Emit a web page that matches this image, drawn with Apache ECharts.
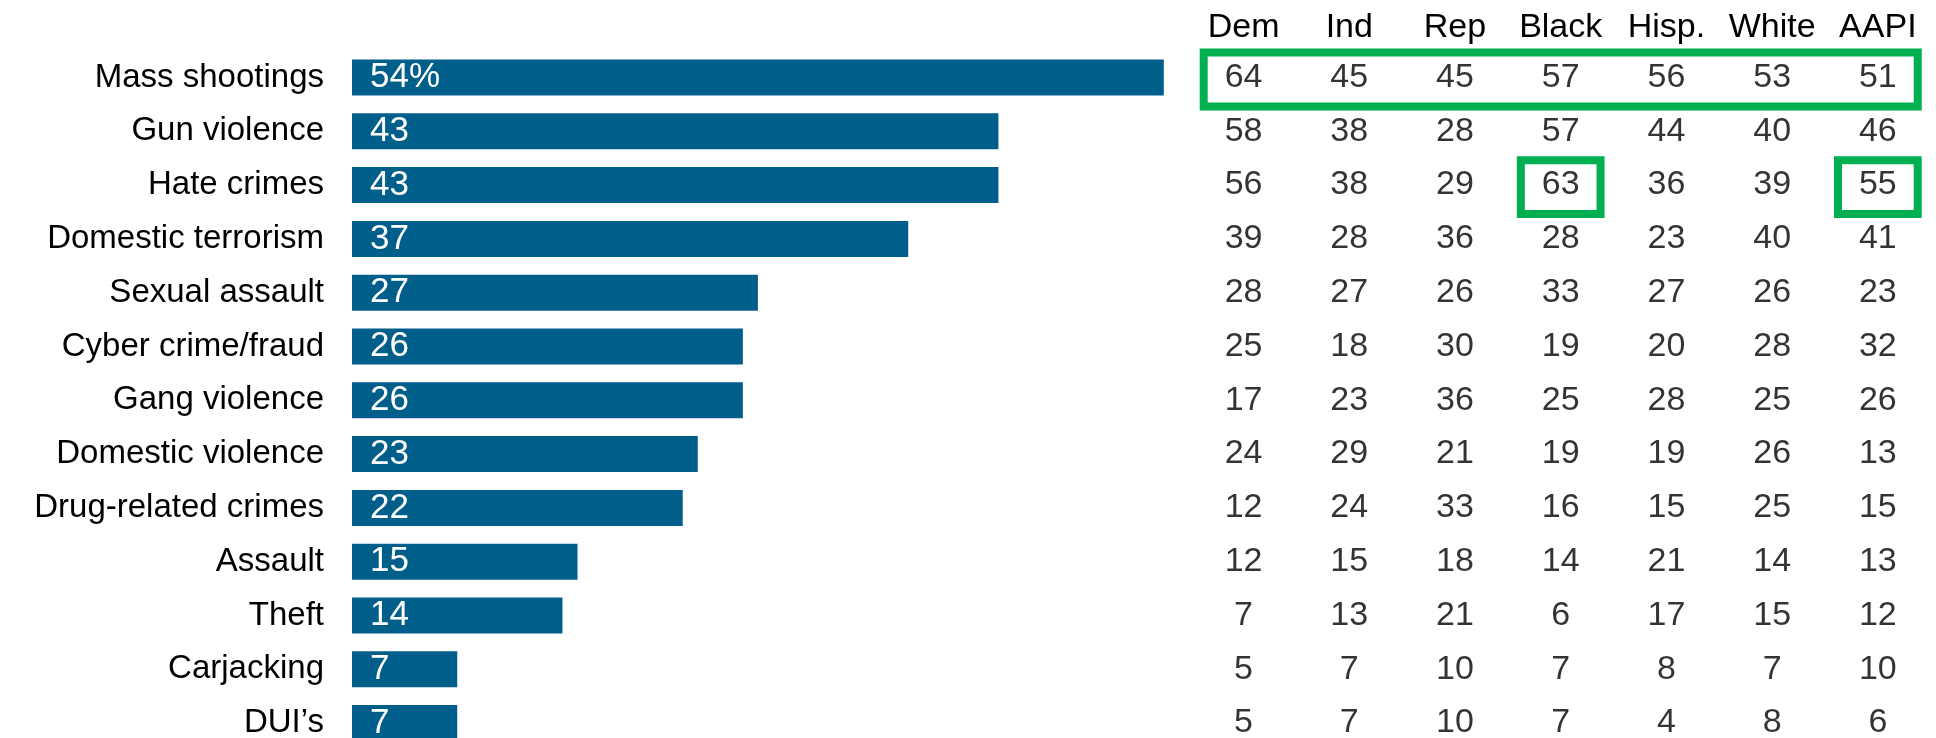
<!DOCTYPE html>
<html>
<head>
<meta charset="utf-8">
<script src="https://cdn.jsdelivr.net/npm/echarts@6/dist/echarts.min.js"></script>
<style>
  html, body { margin: 0; padding: 0; background: #fff; }
  #chart { width: 1936px; height: 738px; }
</style>
</head>
<body>
<div id="chart"></div>
<script>
const crimes = ['Mass shootings', 'Gun violence', 'Hate crimes', 'Domestic terrorism', 'Sexual assault',
  'Cyber crime/fraud', 'Gang violence', 'Domestic violence', 'Drug-related crimes', 'Assault',
  'Theft', 'Carjacking', 'DUI\u2019s'];
const total = [54, 43, 43, 37, 27, 26, 26, 23, 22, 15, 14, 7, 7];

const groups = ['Dem', 'Ind', 'Rep', 'Black', 'Hisp.', 'White', 'AAPI'];
const dem   = [64, 58, 56, 39, 28, 25, 17, 24, 12, 12, 7, 5, 5];
const ind   = [45, 38, 38, 28, 27, 18, 23, 29, 24, 15, 13, 7, 7];
const rep   = [45, 28, 29, 36, 26, 30, 36, 21, 33, 18, 21, 10, 10];
const black = [57, 57, 63, 28, 33, 19, 25, 19, 16, 14, 6, 7, 7];
const hisp  = [56, 44, 36, 23, 27, 20, 28, 19, 15, 21, 17, 8, 4];
const white = [53, 40, 39, 40, 26, 28, 25, 26, 25, 14, 15, 7, 8];
const aapi  = [51, 46, 55, 41, 23, 32, 26, 13, 15, 13, 12, 10, 6];

// highlighted cells: [first column, last column, row]
const highlights = [[0, 6, 0], [3, 3, 2], [6, 6, 2]];

const columns = [dem, ind, rep, black, hisp, white, aapi];
const cells = [];
columns.forEach(function (col, c) {
  col.forEach(function (v, r) { cells.push([c, r, v]); });
});

const font = '"Liberation Sans", Arial, sans-serif';
const chart = echarts.init(document.getElementById('chart'));

chart.setOption({
  animation: false,
  grid: [
    { left: 352, width: 902, top: 50.6, height: 699.4, outerBoundsMode: 'none' },
    { left: 1190.7, width: 740, top: 50.6, height: 699.4, outerBoundsMode: 'none' }
  ],
  xAxis: [
    { gridIndex: 0, type: 'value', min: 0, max: 60, show: false },
    {
      gridIndex: 1, type: 'category', data: groups, position: 'top',
      axisLine: { show: false }, axisTick: { show: false }, splitLine: { show: false },
      axisLabel: { color: '#000', fontSize: 34, fontFamily: font, margin: 6, interval: 0 }
    }
  ],
  yAxis: [
    {
      gridIndex: 0, type: 'category', data: crimes, inverse: true,
      axisLine: { show: false }, axisTick: { show: false },
      axisLabel: { color: '#000', fontSize: 33, fontFamily: font, margin: 28, interval: 0 }
    },
    { gridIndex: 1, type: 'category', data: crimes, inverse: true, show: false }
  ],
  series: [
    {
      type: 'bar', xAxisIndex: 0, yAxisIndex: 0, data: total, barWidth: 36,
      itemStyle: { color: '#005e8a' },
      label: {
        show: true, position: 'insideLeft', distance: 18, color: '#fff',
        fontSize: 35, fontFamily: font,
        formatter: function (p) { return p.dataIndex === 0 ? p.value + '%' : p.value; }
      }
    },
    {
      type: 'scatter', xAxisIndex: 1, yAxisIndex: 1, data: cells, symbolSize: 0,
      label: {
        show: true, position: 'inside', color: '#000', fontSize: 34, fontFamily: font,
        formatter: function (p) { return p.value[2]; }
      }
    },
    {
      type: 'custom', xAxisIndex: 1, yAxisIndex: 1, data: highlights, silent: true,
      renderItem: function (params, api) {
        const a = api.coord([api.value(0), api.value(2)]);
        const b = api.coord([api.value(1), api.value(2)]);
        const size = api.size([1, 1]);
        const inset = 13;
        const x0 = a[0] - size[0] / 2 + inset;
        const x1 = b[0] + size[0] / 2 - inset;
        return {
          type: 'rect',
          shape: { x: x0, y: a[1] - size[1] / 2 + 2, width: x1 - x0, height: size[1] },
          style: { fill: 'none', stroke: '#00b050', lineWidth: 8 }
        };
      }
    }
  ]
});
</script>
</body>
</html>
